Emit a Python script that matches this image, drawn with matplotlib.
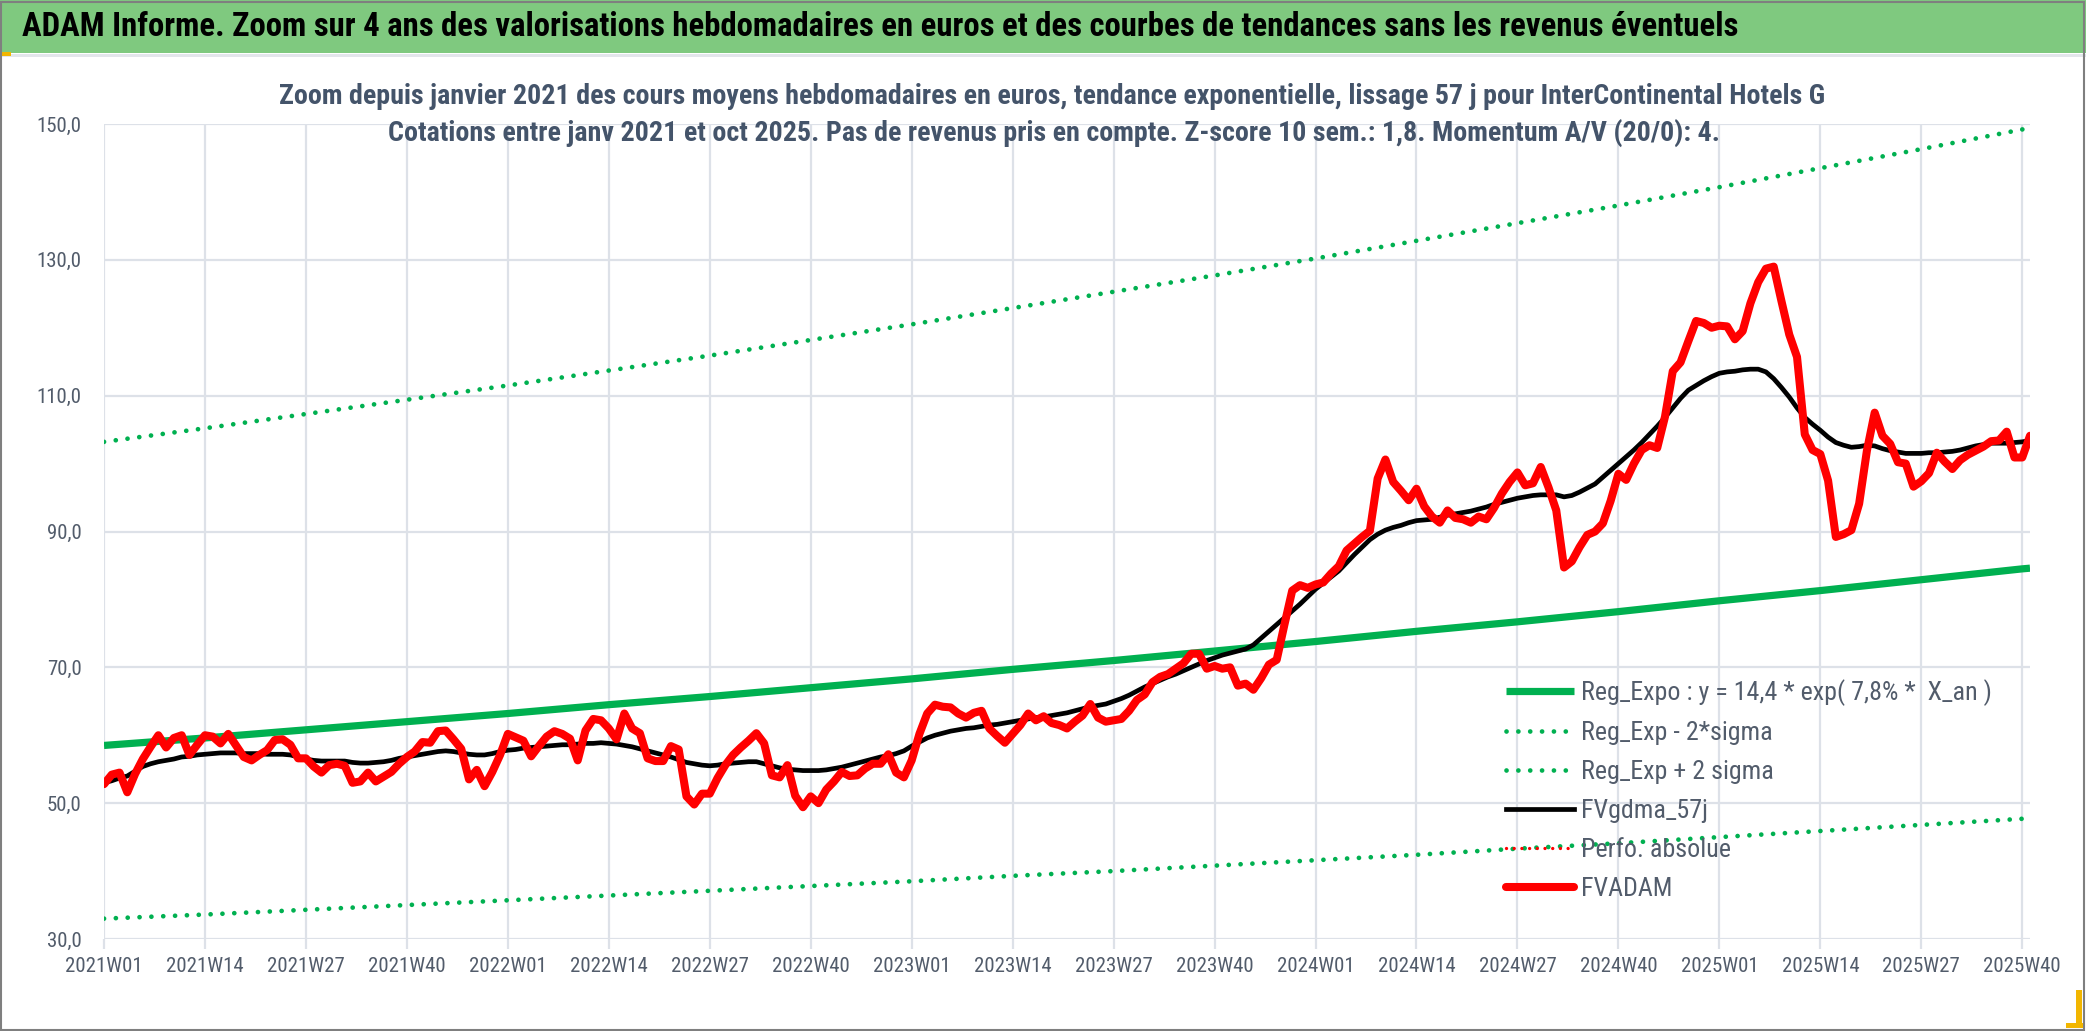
import matplotlib
matplotlib.use("Agg")
import matplotlib.pyplot as plt
from matplotlib.patches import Rectangle

plt.rcParams['font.family'] = ['Roboto Condensed', 'DejaVu Sans']

# Valeurs hebdomadaires, de 2021W01 à 2025W41
fvadam = [
    52.8, 54.2, 54.5, 51.6, 54.3, 56.5, 58.3, 60.0, 58.2, 59.6, 60.0, 57.1, 58.6,
    60.0, 59.8, 58.8, 60.2, 58.5, 56.8, 56.3, 57.1, 57.8, 59.3, 59.4, 58.6, 56.6,
    56.6, 55.4, 54.5, 55.6, 55.8, 55.5, 53.0, 53.2, 54.5, 53.2, 53.9, 54.6, 55.8,
    56.8, 57.6, 59.0, 58.9, 60.6, 60.7, 59.4, 58.0, 53.5, 54.9, 52.5, 54.6, 57.1,
    60.2, 59.7, 59.2, 56.9, 58.4, 59.8, 60.6, 60.2, 59.5, 56.3, 60.7, 62.4, 62.2,
    61.0, 59.4, 63.2, 61.0, 60.3, 56.6, 56.2, 56.2, 58.4, 57.9, 51.0, 49.8, 51.4,
    51.4, 53.7, 55.6, 57.1, 58.2, 59.2, 60.3, 58.8, 54.1, 53.8, 55.6, 51.1, 49.4,
    51.0, 50.0, 52.0, 53.2, 54.6, 54.0, 54.1, 55.1, 55.8, 55.8, 57.2, 54.5, 53.8,
    56.3, 60.2, 63.2, 64.5, 64.2, 64.1, 63.2, 62.6, 63.3, 63.6, 61.0, 59.9, 58.9,
    60.2, 61.5, 63.2, 62.2, 62.8, 61.8, 61.5, 61.0, 62.0, 62.9, 64.6, 62.6, 62.0,
    62.2, 62.4, 63.6, 65.2, 66.0, 67.8, 68.6, 69.0, 69.8, 70.6, 72.0, 72.0, 69.8,
    70.2, 69.8, 70.0, 67.3, 67.6, 66.7, 68.4, 70.4, 71.1, 76.3, 81.3, 82.1, 81.7,
    82.2, 82.5, 83.8, 84.9, 87.2, 88.2, 89.2, 90.1, 97.8, 100.6, 97.3, 96.0, 94.6,
    96.3, 93.7, 92.2, 91.3, 93.1, 92.0, 91.8, 91.3, 92.2, 91.8, 93.5, 95.6, 97.3,
    98.7, 96.8, 97.1, 99.5, 96.5, 93.1, 84.7, 85.6, 87.7, 89.5, 90.0, 91.2, 94.5,
    98.5, 97.6, 100.0, 102.0, 102.7, 102.3, 106.9, 113.6, 114.9, 118.0, 121.0, 120.7, 120.0,
    120.3, 120.2, 118.3, 119.5, 123.6, 126.7, 128.7, 129.0, 123.9, 119.0, 115.7, 104.3, 102.0,
    101.4, 97.5, 89.2, 89.6, 90.2, 94.1, 101.9, 107.5, 104.1, 102.9, 100.2, 100.0, 96.6,
    97.4, 98.6, 101.6, 100.3, 99.2, 100.5, 101.3, 101.9, 102.5, 103.3, 103.4, 104.7, 100.9,
    100.9, 104.1,
]

fvgdma_57j = [
    53.0, 53.3, 53.7, 54.0, 54.7, 55.4, 55.8, 56.1, 56.3, 56.5, 56.8, 56.9, 57.1,
    57.2, 57.3, 57.4, 57.4, 57.4, 57.3, 57.3, 57.3, 57.2, 57.2, 57.2, 57.1, 56.8,
    56.5, 56.3, 56.2, 56.2, 56.2, 56.2, 56.0, 55.9, 55.9, 56.0, 56.1, 56.3, 56.6,
    56.8, 57.0, 57.2, 57.4, 57.6, 57.7, 57.6, 57.4, 57.2, 57.1, 57.1, 57.3, 57.6,
    57.8, 57.9, 58.1, 58.2, 58.3, 58.4, 58.5, 58.6, 58.6, 58.7, 58.8, 58.8, 58.9,
    58.8, 58.7, 58.5, 58.3, 58.0, 57.7, 57.4, 57.1, 56.8, 56.4, 56.0, 55.8, 55.6,
    55.5, 55.6, 55.8, 55.9, 56.0, 56.1, 56.1, 55.8, 55.5, 55.2, 55.0, 54.9, 54.8,
    54.8, 54.8, 54.9, 55.1, 55.3, 55.6, 55.9, 56.2, 56.5, 56.8, 57.0, 57.3, 57.7,
    58.4, 59.0, 59.6, 60.0, 60.3, 60.6, 60.8, 61.0, 61.1, 61.3, 61.5, 61.6, 61.8,
    62.0, 62.2, 62.4, 62.6, 62.7, 62.9, 63.1, 63.3, 63.6, 63.9, 64.2, 64.4, 64.6,
    65.0, 65.4, 65.9, 66.5, 67.1, 67.6, 68.1, 68.6, 69.0, 69.5, 70.0, 70.5, 71.0,
    71.4, 71.8, 72.1, 72.4, 72.7, 73.3, 74.3, 75.3, 76.3, 77.3, 78.3, 79.3, 80.4,
    81.5, 82.4, 83.3, 84.2, 85.4, 86.6, 87.7, 88.8, 89.6, 90.2, 90.6, 90.9, 91.3,
    91.6, 91.7, 91.8, 92.1, 92.4, 92.6, 92.8, 93.0, 93.3, 93.6, 94.0, 94.3, 94.6,
    94.9, 95.1, 95.3, 95.4, 95.4, 95.4, 95.1, 95.3, 95.8, 96.4, 97.0, 98.0, 99.0,
    100.0, 101.0, 102.0, 103.1, 104.3, 105.5, 106.8, 108.2, 109.6, 110.8, 111.5, 112.2, 112.8,
    113.3, 113.5, 113.6, 113.8, 113.9, 113.9, 113.5, 112.5, 111.2, 109.8, 108.2, 106.8, 105.8,
    104.9, 103.9, 103.1, 102.7, 102.4, 102.5, 102.7, 102.6, 102.2, 101.9, 101.7, 101.5, 101.5,
    101.5, 101.6, 101.6, 101.7, 101.8, 102.0, 102.3, 102.6, 102.8, 103.0, 103.0, 103.0, 103.1,
    103.2, 103.4,
]

# Courbes de régression lues à chaque graduation (toutes les 13 semaines) et à la dernière semaine
semaines_reg = [0, 13, 26, 39, 52, 65, 78, 91, 104, 117, 130, 143, 156, 169, 182, 195, 208, 221, 234, 247, 248]
reg_expo = [58.5, 59.6, 60.8, 62.0, 63.2, 64.5, 65.7, 67.0, 68.3, 69.7, 71.0, 72.4,
            73.8, 75.3, 76.7, 78.2, 79.8, 81.3, 82.9, 84.5, 84.6]
reg_moins_2sigma = [33.0, 33.6, 34.3, 35.0, 35.7, 36.4, 37.1, 37.8, 38.5, 39.3, 40.0, 40.8,
                    41.6, 42.4, 43.3, 44.1, 45.0, 45.9, 46.8, 47.7, 47.8]
reg_plus_2sigma = [103.2, 105.2, 107.3, 109.4, 111.5, 113.7, 115.9, 118.2, 120.5, 122.9, 125.3, 127.7,
                   130.2, 132.8, 135.4, 138.0, 140.7, 143.5, 146.3, 149.2, 149.4]

etiquettes_x = ["2021W01", "2021W14", "2021W27", "2021W40",
                "2022W01", "2022W14", "2022W27", "2022W40",
                "2023W01", "2023W14", "2023W27", "2023W40",
                "2024W01", "2024W14", "2024W27", "2024W40",
                "2025W01", "2025W14", "2025W27", "2025W40"]
valeurs_y = [30, 50, 70, 90, 110, 130, 150]

titre = ("ADAM Informe. Zoom sur 4 ans des valorisations hebdomadaires en euros "
         "et des courbes de tendances sans les revenus éventuels")
sous_titre_1 = ("Zoom depuis janvier 2021 des cours moyens hebdomadaires en euros, tendance exponentielle, "
                "lissage 57 j pour InterContinental Hotels G")
sous_titre_2 = ("Cotations entre janv 2021 et oct 2025. Pas de revenus pris en compte. "
                "Z-score 10 sem.: 1,8. Momentum A/V (20/0): 4.")

W, H = 2086, 1031
fig = plt.figure(figsize=(W / 100, H / 100), dpi=100)

# bandeau du titre, cadre et petites marques jaunes
fig.patches.append(Rectangle((0, 1 - 53 / H), 1, 53 / H, transform=fig.transFigure,
                             facecolor='#7fc97f', edgecolor='none', zorder=0))
fig.patches.append(Rectangle((0, 1 - 57 / H), 1, 3 / H, transform=fig.transFigure,
                             facecolor='#e3e6eb', edgecolor='none', zorder=0))
fig.patches.append(Rectangle((0, 1 - 56 / H), 11 / W, 4 / H, transform=fig.transFigure,
                             facecolor='#f2b600', edgecolor='none', zorder=1))
fig.patches.append(Rectangle((1 / W, 1 / H), 1 - 3 / W, 1 - 3 / H, transform=fig.transFigure,
                             facecolor='none', edgecolor='#7f7f7f', lw=1.5, zorder=2))
fig.patches.append(Rectangle((W - 10, 3), 6, 38, transform=None,
                             facecolor='#f2b600', edgecolor='none', zorder=3))
fig.patches.append(Rectangle((W - 20, 3), 17, 5, transform=None,
                             facecolor='#f2b600', edgecolor='none', zorder=3))

fig.text(22 / W, 1 - 27 / H, titre, fontsize=23.6, fontweight='bold', color='black',
         ha='left', va='center')
fig.text(1052 / W, 1 - 97 / H, sous_titre_1, fontsize=20.2, fontweight='bold', color='#44546a',
         ha='center', va='center')
fig.text(1054 / W, 1 - 133 / H, sous_titre_2, fontsize=20.2, fontweight='bold', color='#44546a',
         ha='center', va='center')

ax = fig.add_axes([104 / W, 1 - 939 / H, (2030 - 104) / W, (939 - 124) / H])
semaines = list(range(len(fvadam)))

vert = '#00b050'
pointille = (0, (0.01, 2.5))
ax.plot(semaines_reg, reg_expo, color=vert, lw=5.2, solid_capstyle='butt',
        label='Reg_Expo : y = 14,4 * exp( 7,8% *  X_an )')
ax.plot(semaines_reg, reg_moins_2sigma, color=vert, lw=3.4, linestyle=pointille,
        dash_capstyle='round', label='Reg_Exp - 2*sigma')
ax.plot(semaines_reg, reg_plus_2sigma, color=vert, lw=3.4, linestyle=pointille,
        dash_capstyle='round', label='Reg_Exp + 2 sigma')
ax.plot(semaines, fvgdma_57j, color='black', lw=3.4, solid_joinstyle='round', label='FVgdma_57j')
ax.plot([], [], color='#ff0000', lw=2.4, linestyle=(0, (0.01, 2.3)), dash_capstyle='round',
        label='Perfo. absolue')
ax.plot(semaines, fvadam, color='#ff0000', lw=5.8, solid_joinstyle='round',
        solid_capstyle='round', label='FVADAM')

ax.set_xlim(0, len(fvadam) - 1)
ax.set_ylim(valeurs_y[0], valeurs_y[-1])
ax.set_xticks(range(0, 13 * len(etiquettes_x), 13))
ax.set_xticklabels(etiquettes_x)
ax.set_yticks(valeurs_y)
ax.set_yticklabels([f"{v},0" for v in valeurs_y])

gris = '#dde1e8'
ax.grid(True, color=gris, lw=1.6)
ax.set_axisbelow(True)
for s in ax.spines.values():
    s.set_visible(False)
ax.tick_params(axis='x', length=7, width=1.6, color=gris, labelsize=15,
               labelcolor='#525c6b', pad=6)
ax.tick_params(axis='y', length=0, labelsize=15, labelcolor='#525c6b', pad=16)

leg = ax.legend(loc='upper left', bbox_to_anchor=(1506 / W, 1 - 679 / H),
                bbox_transform=fig.transFigure, frameon=False, fontsize=18.7,
                handlelength=2.6, handletextpad=0.3, labelspacing=0.58,
                borderpad=0, borderaxespad=0)
for t in leg.get_texts():
    t.set_color('#525c6b')

fig.savefig('out.png', dpi=100)
